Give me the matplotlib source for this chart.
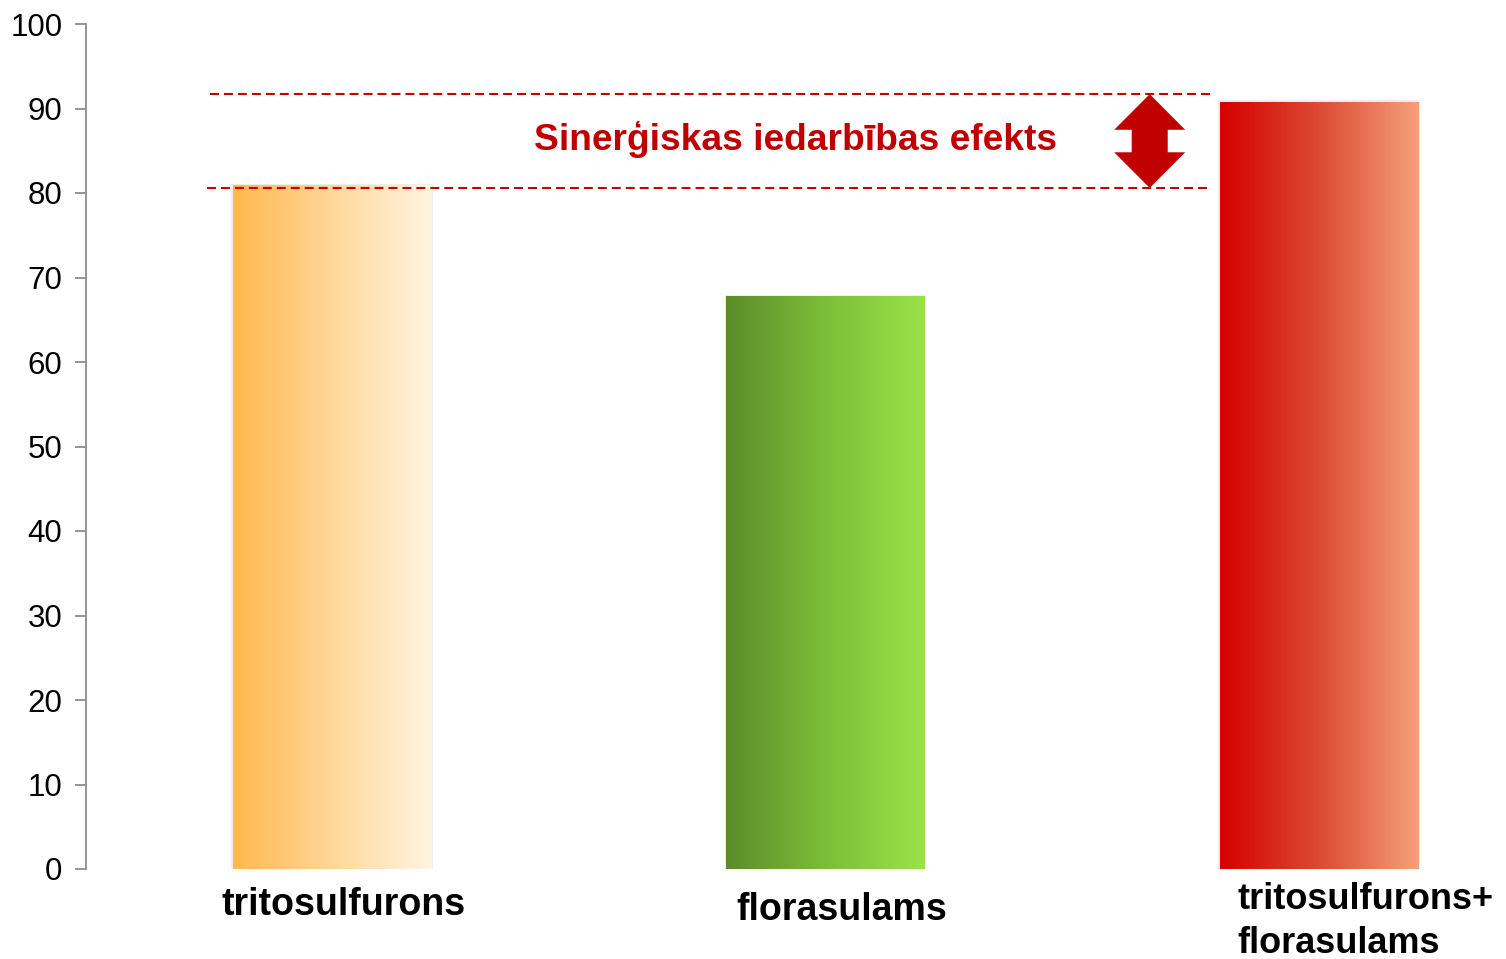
import numpy as np
import matplotlib
matplotlib.use('Agg')
import matplotlib.pyplot as plt
from matplotlib.colors import LinearSegmentedColormap
from matplotlib.patches import Polygon

plt.rcParams['font.family'] = ['Liberation Sans', 'DejaVu Sans']

# data
categories = ['tritosulfurons', 'florasulams', 'tritosulfurons+\nflorasulams']
values = [80.9, 67.8, 90.8]
effect_levels = [80.6, 91.7]   # dashed lines bounding the synergy effect
effect_label = 'Sinerģiskas iedarbības efekts'
yticks = list(range(0, 101, 10))

bar_colors = [
    ('#FFB84D', '#FFD79A', '#FFF5E0'),
    ('#5A8C2A', '#7DBE38', '#9BE24A'),
    ('#D40000', '#DD4A35', '#F5A07A'),
]

fig = plt.figure(figsize=(15.06, 9.59), dpi=100)
ax = fig.add_axes([86 / 1506, (959 - 869) / 959, (1506 - 86) / 1506, (869 - 24) / 959])

width = 0.403
bars = ax.bar(range(len(values)), values, width=width, color='none', zorder=2)

# gradient fill, clipped to each bar
grad = np.linspace(0, 1, 256).reshape(1, -1)
for bar, cols in zip(bars, bar_colors):
    cmap = LinearSegmentedColormap.from_list('g', cols)
    x0, y0 = bar.get_x(), bar.get_y()
    w, h = bar.get_width(), bar.get_height()
    # faint shadow
    ax.add_patch(plt.Rectangle((x0 - 0.003, y0), w + 0.006, h + 0.15,
                               color='#e4e4e4', alpha=0.6, lw=0, zorder=1))
    im = ax.imshow(grad, cmap=cmap, aspect='auto', extent=(x0, x0 + w, y0, y0 + h),
                   interpolation='bicubic', zorder=2)
    im.set_clip_path(bar)

ax.set_xlim(-0.4985, 2.379)
ax.set_ylim(0, 100)

# synergy annotation
x_left = [-0.254, -0.247]
x_right = 1.78
for lvl, xl in zip(effect_levels, x_left):
    ax.plot([xl, x_right], [lvl, lvl], color='#C80000', lw=1.5, dashes=(4.3, 2.4),
            zorder=3)

ax.text(0.94, np.mean(effect_levels) + 0.2, effect_label, color='#C00000',
        fontsize=26.7, fontweight='bold', ha='center', va='center')

# double block arrow between the two levels
y_lo, y_hi = min(effect_levels), max(effect_levels)
xc = 1.657
hw, sw = 0.072, 0.0365
head = (y_hi - y_lo) * 0.38
arrow = [
    (xc, y_hi), (xc + hw, y_hi - head), (xc + sw, y_hi - head),
    (xc + sw, y_lo + head), (xc + hw, y_lo + head), (xc, y_lo),
    (xc - hw, y_lo + head), (xc - sw, y_lo + head),
    (xc - sw, y_hi - head), (xc - hw, y_hi - head),
]
ax.add_patch(Polygon(arrow, closed=True, color='#C00000', lw=0, zorder=3))

# axes styling
for side in ['top', 'right', 'bottom']:
    ax.spines[side].set_visible(False)
ax.spines['left'].set_color('#8c8c8c')
ax.spines['left'].set_linewidth(1.3)
ax.set_yticks(yticks)
ax.tick_params(axis='y', length=8, width=1.3, color='#8c8c8c', labelsize=22.5, pad=9)
ax.tick_params(axis='x', length=0)
ax.set_xticks([])

# category labels
label_pos = [(0.024, -4.3, 'center', 27), (1.032, -4.9, 'center', 27),
             (2 - 0.166, -6.2, 'left', 26)]
for cat, (lx, ly, ha, fs) in zip(categories, label_pos):
    ax.text(lx, ly, cat, fontsize=fs, fontweight='bold', ha=ha, va='center',
            linespacing=1.35, clip_on=False)

fig.savefig('out.png', dpi=100)
